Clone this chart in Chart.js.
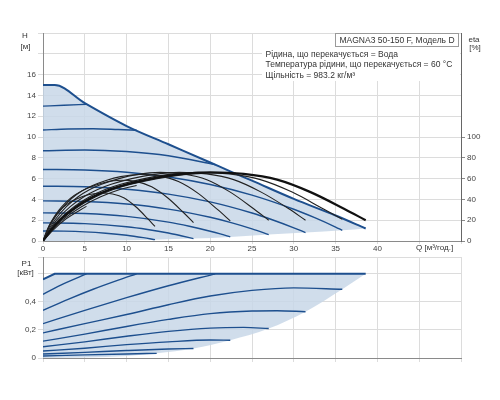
<!DOCTYPE html>
<html>
<head>
<meta charset="utf-8">
<script src="https://cdn.jsdelivr.net/npm/chart.js@4.4.1/dist/chart.umd.min.js"></script>
<style>
  body { margin: 0; background: #fff; }
  #wrap { position: relative; width: 500px; height: 400px; }
  #wrap canvas { position: absolute; left: 0; }
</style>
</head>
<body>
<div id="wrap">
  <canvas id="headChart" width="500" height="260" style="top:0"></canvas>
  <canvas id="powerChart" width="500" height="150" style="top:250px"></canvas>
</div>
<script>
// axes
const qTicks = [0, 5, 10, 15, 20, 25, 30, 35, 40, 45, 50];
const qLabels = ['0', '5', '10', '15', '20', '25', '30', '35', '40', '', ''];
const hTicks = [0, 2, 4, 6, 8, 10, 12, 14, 16, 18, 20];
const hLabels = ['0', '2', '4', '6', '8', '10', '12', '14', '16', '', ''];
const etaTicks = [0, 20, 40, 60, 80, 100];
const pTicks = [0, 0.2, 0.4, 0.6, 0.72];
const pLabels = ['0', '0,2', '0,4', '', ''];

// H curves (Q m3/h, H m)
const maxQ = [0, 1.4, 5, 10, 15, 20, 22.4, 25, 30, 35, 38.6];
const maxH = [15, 15, 13.25, 11.05, 9.3, 7.55, 6.7, 5.8, 4.05, 2.45, 1.2];
const lowQ = [0, 5, 10, 13.4, 18, 22.4, 27, 31.4, 35.8, 38.6];
const lowH = [0, 0.02, 0.08, 0.13, 0.23, 0.39, 0.62, 0.81, 1.03, 1.2];

const c1Q = [0, 2.5, 5, 7.5, 10, 12, 13.4];
const c1H = [0.96, 0.945, 0.88, 0.75, 0.55, 0.32, 0.13];
const c2Q = [0, 5, 10, 12.5, 15, 16.5, 18];
const c2H = [1.74, 1.67, 1.37, 1.11, 0.77, 0.51, 0.23];
const c3Q = [0, 5, 10, 15, 17.5, 20, 21.2, 22.4];
const c3H = [2.7, 2.64, 2.37, 1.82, 1.42, 0.94, 0.68, 0.39];
const c4Q = [0, 5, 10, 15, 20, 22.5, 25, 27];
const c4H = [3.86, 3.8, 3.56, 3.07, 2.28, 1.77, 1.17, 0.62];
const c5Q = [0, 5, 10, 15, 20, 25, 27.5, 30, 31.4];
const c5H = [5.27, 5.22, 4.98, 4.51, 3.76, 2.69, 2.02, 1.27, 0.81];
const c6Q = [0, 5, 10, 15, 20, 25, 30, 32.5, 35, 35.8];
const c6H = [6.88, 6.83, 6.61, 6.15, 5.43, 4.41, 3.05, 2.24, 1.34, 1.03];
const c7Q = [0, 5, 10, 15, 20.6];
const c7H = [8.68, 8.75, 8.6, 8.2, 7.34];
const c8Q = [0, 3, 6, 9, 11.2];
const c8H = [10.67, 10.77, 10.8, 10.72, 10.65];
const c9Q = [0, 2.5, 5.2];
const c9H = [12.97, 13.05, 13.15];

// efficiency curves (eta %)
const eMaxQ = [0, 1, 2, 4, 6, 8, 10, 13, 16, 20, 24, 28, 32, 36, 38.6];
const eMax = [0, 11, 20, 33, 42.5, 49.5, 54.5, 60, 63.8, 66, 64.5, 59, 47, 31, 20];
const e6Q = [0, 0.93, 1.86, 3.72, 5.58, 7.44, 9.3, 12.1, 14.9, 18.6, 22.3, 26, 29.8, 33.5, 35.8];
const e6 = [0, 11, 20, 33, 42.5, 49.5, 54.5, 60, 63.8, 66, 64.5, 59, 47, 31, 21];
const e5Q = [0, 0.82, 1.63, 3.26, 4.9, 6.53, 8.16, 10.6, 13.1, 16.3, 19.6, 22.8, 26.1, 29.4, 31.4];
const e5 = [0, 11, 20, 33, 42.5, 49.5, 54.5, 60, 63.8, 66, 64.5, 59, 47, 31, 20];
const e4Q = [0, 0.7, 1.4, 2.8, 4.2, 5.6, 7, 9.1, 11.2, 14, 16.8, 19.6, 22.4, 25.2, 27];
const e4 = [0, 11, 20, 33, 42.5, 49.5, 54.5, 60, 63.8, 66, 64.5, 59, 47, 31, 20];
const e3Q = [0, 0.58, 1.16, 2.32, 3.48, 4.64, 5.8, 7.54, 9.28, 11.6, 13.9, 16.2, 18.6, 20.9, 22.4];
const e3 = [0, 10.7, 19.4, 32, 41.2, 48, 52.9, 58.2, 61.9, 64, 62.6, 57.2, 45.6, 30.1, 19.4];
const e2Q = [0, 0.47, 0.93, 1.86, 2.8, 3.73, 4.66, 6.06, 7.46, 9.32, 11.2, 13, 14.9, 16.8, 18];
const e2 = [0, 9.7, 17.7, 29.2, 37.6, 43.8, 48.2, 53.1, 56.5, 58.4, 57.1, 52.2, 41.6, 27.4, 17.7];
const e1Q = [0, 0.35, 0.69, 1.39, 2.08, 2.78, 3.47, 4.51, 5.55, 6.94, 8.33, 9.72, 11.1, 12.5, 13.4];
const e1 = [0, 7.7, 14, 23.1, 29.8, 34.7, 38.2, 42, 44.7, 46.2, 45.2, 41.3, 32.9, 21.7, 14];
const e7Q = [0, 1.05, 2.1, 4.2, 6.3, 8.4, 10.5, 13.65, 16.8, 20.6];
const e7 = [0, 11, 20, 33, 42.5, 49.5, 54.5, 60, 63.8, 65.9];
const e8Q = [0, 1.15, 2.3, 4.6, 6.9, 9.2, 11.2];
const e8 = [0, 11, 20, 33, 42.5, 49.5, 53.3];
const e9Q = [0, 1.27, 2.54, 5.2];
const e9 = [0, 11, 20, 33.3];

// P1 curves (kW)
const pMaxQ = [0, 1.4, 38.6];
const pMax = [0.56, 0.6, 0.6];
const pLowQ = [0, 5, 10, 13.6, 18, 22.4, 27, 31.4, 35.8, 38.6];
const pLow = [0, 0.004, 0.014, 0.033, 0.068, 0.127, 0.21, 0.33, 0.49, 0.6];
const p9Q = [0, 2.5, 5.2];
const p9 = [0.454, 0.53, 0.6];
const p8Q = [0, 3, 6, 9, 11.2];
const p8 = [0.34, 0.418, 0.49, 0.555, 0.6];
const p7Q = [0, 5, 10, 15, 20.6];
const p7 = [0.245, 0.34, 0.43, 0.515, 0.6];
const p6Q = [0, 5, 10, 15, 20, 25, 30, 35.8];
const p6 = [0.179, 0.245, 0.31, 0.38, 0.442, 0.482, 0.5, 0.49];
const p5Q = [0, 5, 10, 15, 20, 25, 28, 31.4];
const p5 = [0.12, 0.17, 0.225, 0.275, 0.316, 0.335, 0.337, 0.33];
const p4Q = [0, 5, 10, 15, 20, 24, 27];
const p4 = [0.08, 0.115, 0.155, 0.19, 0.213, 0.218, 0.21];
const p3Q = [0, 5, 10, 15, 20, 22.4];
const p3 = [0.05, 0.07, 0.095, 0.115, 0.128, 0.127];
const p2Q = [0, 5, 10, 15, 18];
const p2 = [0.028, 0.04, 0.053, 0.064, 0.068];
const p1Q = [0, 5, 10, 13.6];
const p1 = [0.014, 0.022, 0.029, 0.033];

const BLUE = '#1d4f8e';
const FILL = 'rgba(200,215,231,0.85)';
const GRID = '#dcdcdc';
const AXIS = '#8a8a8a';
const FONT = '"Liberation Sans", Arial, sans-serif';

Chart.defaults.font.family = FONT;
Chart.defaults.font.size = 8;
Chart.defaults.color = '#444';

function pts(q, v) {
    return q.map((x, i) => ({ x: x, y: v[i] }));
}

function curve(q, v, color, width, axis, order) {
    return {
        data: pts(q, v),
        borderColor: color,
        borderWidth: width,
        pointRadius: 0,
        fill: false,
        cubicInterpolationMode: 'monotone',
        yAxisID: axis,
        order: order
    };
}

function fixTicks(values) {
    return function (scale) {
        scale.ticks = values.map(v => ({ value: v }));
    };
}

const headText = {
    id: 'headText',
    afterDraw(chart) {
        const ctx = chart.ctx;
        ctx.save();
        ctx.fillStyle = '#fff';
        ctx.fillRect(262, 34, 198, 47);
        ctx.strokeStyle = '#9a9a9a';
        ctx.lineWidth = 1;
        ctx.strokeRect(335.5, 33.5, 123, 13);
        ctx.fillStyle = '#333';
        ctx.font = '8.5px ' + FONT;
        ctx.textBaseline = 'middle';
        ctx.textAlign = 'center';
        ctx.fillText('MAGNA3 50-150 F, Модель D', 397, 40.5);
        ctx.textAlign = 'left';
        ctx.fillText('Рідина, що перекачується = Вода', 265.5, 54.5);
        ctx.fillText('Температура рідини, що перекачується = 60 °C', 265.5, 65);
        ctx.fillText('Щільність = 983.2 кг/м³', 265.5, 75.5);
        ctx.font = '8px ' + FONT;
        ctx.textAlign = 'center';
        ctx.fillText('H', 25, 36);
        ctx.fillText('[м]', 25.5, 47);
        ctx.fillText('eta', 474, 39.5);
        ctx.fillText('[%]', 475, 47.5);
        ctx.textAlign = 'left';
        ctx.fillText('Q [м³/год.]', 416, 248);
        ctx.restore();
    }
};

const powerText = {
    id: 'powerText',
    afterDraw(chart) {
        const ctx = chart.ctx;
        ctx.save();
        ctx.fillStyle = '#333';
        ctx.font = '8px ' + FONT;
        ctx.textBaseline = 'middle';
        ctx.textAlign = 'center';
        ctx.fillText('P1', 26.5, 14);
        ctx.fillText('[кВт]', 25.5, 22.5);
        ctx.restore();
    }
};

const headDatasets = [
    Object.assign(curve(maxQ, maxH, BLUE, 2, 'yH', 3), { fill: 1, backgroundColor: FILL }),
    Object.assign(curve(lowQ, lowH, 'rgba(0,0,0,0)', 0, 'yH', 9)),
    curve(c1Q, c1H, BLUE, 1.4, 'yH', 4),
    curve(c2Q, c2H, BLUE, 1.4, 'yH', 4),
    curve(c3Q, c3H, BLUE, 1.4, 'yH', 4),
    curve(c4Q, c4H, BLUE, 1.4, 'yH', 4),
    curve(c5Q, c5H, BLUE, 1.4, 'yH', 4),
    curve(c6Q, c6H, BLUE, 1.4, 'yH', 4),
    curve(c7Q, c7H, BLUE, 1.4, 'yH', 4),
    curve(c8Q, c8H, BLUE, 1.4, 'yH', 4),
    curve(c9Q, c9H, BLUE, 1.4, 'yH', 4),
    curve(e1Q, e1, '#222', 1.1, 'yE', 1),
    curve(e2Q, e2, '#222', 1.1, 'yE', 1),
    curve(e3Q, e3, '#222', 1.1, 'yE', 1),
    curve(e4Q, e4, '#222', 1.1, 'yE', 1),
    curve(e5Q, e5, '#222', 1.1, 'yE', 1),
    curve(e6Q, e6, '#222', 1.1, 'yE', 1),
    curve(e7Q, e7, '#222', 1.1, 'yE', 1),
    curve(e8Q, e8, '#222', 1.1, 'yE', 1),
    curve(e9Q, e9, '#222', 1.1, 'yE', 1),
    curve(eMaxQ, eMax, '#111', 2.2, 'yE', 0)
];

new Chart(document.getElementById('headChart'), {
    type: 'line',
    data: { datasets: headDatasets },
    options: {
        responsive: false,
        animation: false,
        devicePixelRatio: 1,
        layout: { padding: { top: 33, left: 0, right: 0, bottom: 0 } },
        plugins: {
            legend: { display: false },
            tooltip: { enabled: false },
            filler: { drawTime: 'beforeDatasetsDraw' }
        },
        scales: {
            x: {
                type: 'linear', min: 0, max: 50,
                afterBuildTicks: fixTicks(qTicks),
                afterFit: s => { s.height = 19; },
                ticks: { callback: (v, i) => qLabels[i], padding: 0, maxRotation: 0, autoSkip: false },
                grid: { color: GRID, tickLength: 3 },
                border: { color: AXIS }
            },
            yH: {
                type: 'linear', position: 'left', min: 0, max: 20,
                afterBuildTicks: fixTicks(hTicks),
                afterFit: s => { s.width = 43; },
                ticks: { callback: (v, i) => hLabels[i], padding: 2, autoSkip: false },
                grid: { color: GRID, tickLength: 5 },
                border: { color: AXIS }
            },
            yE: {
                type: 'linear', position: 'right', min: 0, max: 200,
                afterBuildTicks: fixTicks(etaTicks),
                afterFit: s => { s.width = 39; },
                ticks: { padding: 2, autoSkip: false },
                grid: { drawOnChartArea: false, color: AXIS, tickLength: 4 },
                border: { color: '#666' }
            }
        }
    },
    plugins: [headText]
});

const powerDatasets = [
    Object.assign(curve(pMaxQ, pMax, BLUE, 2, 'yP', 3), { fill: 1, backgroundColor: FILL, cubicInterpolationMode: 'default', tension: 0 }),
    curve(pLowQ, pLow, 'rgba(0,0,0,0)', 0, 'yP', 9),
    curve(p1Q, p1, BLUE, 1.4, 'yP', 4),
    curve(p2Q, p2, BLUE, 1.4, 'yP', 4),
    curve(p3Q, p3, BLUE, 1.4, 'yP', 4),
    curve(p4Q, p4, BLUE, 1.4, 'yP', 4),
    curve(p5Q, p5, BLUE, 1.4, 'yP', 4),
    curve(p6Q, p6, BLUE, 1.4, 'yP', 4),
    curve(p7Q, p7, BLUE, 1.4, 'yP', 4),
    curve(p8Q, p8, BLUE, 1.4, 'yP', 4),
    curve(p9Q, p9, BLUE, 1.4, 'yP', 4)
];

new Chart(document.getElementById('powerChart'), {
    type: 'line',
    data: { datasets: powerDatasets },
    options: {
        responsive: false,
        animation: false,
        devicePixelRatio: 1,
        layout: { padding: { top: 7, left: 0, right: 39, bottom: 0 } },
        plugins: {
            legend: { display: false },
            tooltip: { enabled: false },
            filler: { drawTime: 'beforeDatasetsDraw' }
        },
        scales: {
            x: {
                type: 'linear', min: 0, max: 50,
                afterBuildTicks: fixTicks(qTicks),
                afterFit: s => { s.height = 42; },
                ticks: { callback: () => '', padding: 0 },
                grid: { color: GRID, tickLength: 4 },
                border: { color: AXIS }
            },
            yP: {
                type: 'linear', position: 'left', min: 0, max: 0.72,
                afterBuildTicks: fixTicks(pTicks),
                afterFit: s => { s.width = 43; },
                ticks: { callback: (v, i) => pLabels[i], padding: 2, autoSkip: false },
                grid: { color: GRID, tickLength: 5 },
                border: { color: AXIS }
            }
        }
    },
    plugins: [powerText]
});
</script>
</body>
</html>
